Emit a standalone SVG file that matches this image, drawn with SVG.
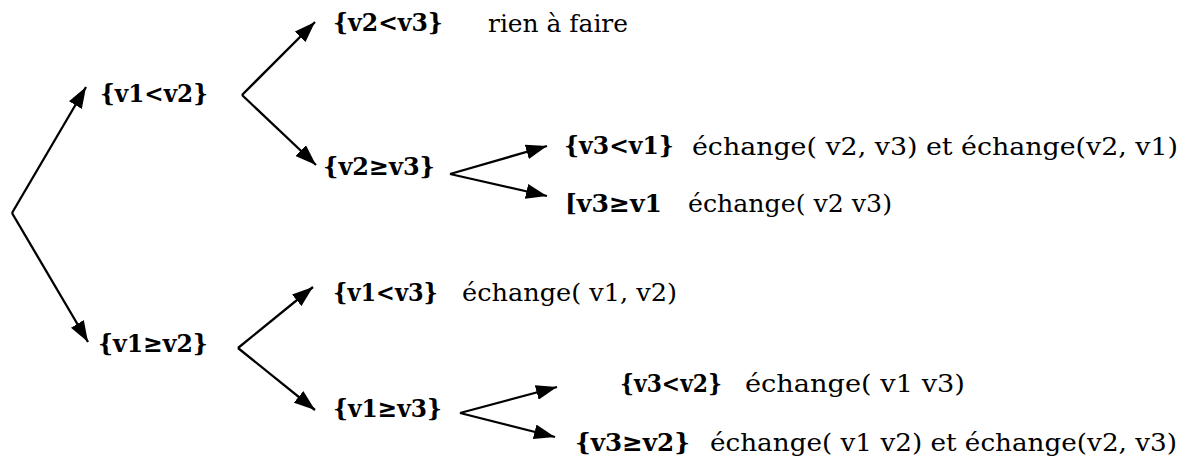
<svg xmlns="http://www.w3.org/2000/svg" width="1183" height="462" viewBox="0 0 1183 462">
<defs>
<marker id="ah" viewBox="0 0 21 15" markerWidth="21" markerHeight="15" refX="21" refY="7.5" markerUnits="userSpaceOnUse" orient="auto">
<path d="M0,0 L21,7.5 L0,15 z" fill="#000"/>
</marker>
</defs>
<rect width="1183" height="462" fill="#fff"/>
<g id="connectors" stroke="#000" stroke-width="2.3" fill="none" marker-end="url(#ah)">
<line x1="12" y1="213" x2="86" y2="87"/>
<line x1="12" y1="213" x2="88" y2="342"/>
<line x1="242" y1="95" x2="315" y2="22"/>
<line x1="242" y1="95" x2="316" y2="165"/>
<line x1="450" y1="174" x2="547" y2="146"/>
<line x1="450" y1="174" x2="547" y2="196"/>
<line x1="238" y1="348" x2="313" y2="287"/>
<line x1="238" y1="348" x2="315" y2="410"/>
<line x1="460" y1="413" x2="557" y2="387"/>
<line x1="460" y1="413" x2="555" y2="437"/>
</g>
<g font-family="DejaVu Serif" fill="#000">
<g font-weight="bold" font-size="25">
<g id="n-v1lt-v2"><text x="100" y="102" textLength="108" lengthAdjust="spacingAndGlyphs">{v1&lt;v2}</text></g>
<g id="n-v2lt-v3"><text x="333" y="31" textLength="110" lengthAdjust="spacingAndGlyphs">{v2&lt;v3}</text></g>
<g id="n-v2ge-v3"><text x="323" y="175" textLength="112" lengthAdjust="spacingAndGlyphs">{v2≥v3}</text></g>
<g id="n-v3lt-v1"><text x="564" y="154" textLength="110" lengthAdjust="spacingAndGlyphs">{v3&lt;v1}</text></g>
<g id="n-v3ge-v1"><text x="565" y="212" textLength="97" lengthAdjust="spacingAndGlyphs">[v3≥v1</text></g>
<g id="n-v1lt-v3"><text x="333" y="301" textLength="105" lengthAdjust="spacingAndGlyphs">{v1&lt;v3}</text></g>
<g id="n-v1ge-v2"><text x="98" y="352" textLength="110" lengthAdjust="spacingAndGlyphs">{v1≥v2}</text></g>
<g id="n-v1ge-v3"><text x="333" y="417" textLength="109" lengthAdjust="spacingAndGlyphs">{v1≥v3}</text></g>
<g id="n-v3lt-v2"><text x="620" y="392" textLength="102" lengthAdjust="spacingAndGlyphs">{v3&lt;v2}</text></g>
<g id="n-v3ge-v2"><text x="575" y="451" textLength="115" lengthAdjust="spacingAndGlyphs">{v3≥v2}</text></g>
</g>
<g font-size="25" id="actions">
<text x="488" y="32" textLength="140" lengthAdjust="spacingAndGlyphs">rien à faire</text>
<text x="692" y="155" textLength="486" lengthAdjust="spacingAndGlyphs">échange( v2, v3) et échange(v2, v1)</text>
<text x="688" y="212" textLength="204" lengthAdjust="spacingAndGlyphs">échange( v2 v3)</text>
<text x="462" y="301" textLength="215" lengthAdjust="spacingAndGlyphs">échange( v1, v2)</text>
<text x="745" y="392" textLength="220" lengthAdjust="spacingAndGlyphs">échange( v1 v3)</text>
<text x="710" y="451" textLength="467" lengthAdjust="spacingAndGlyphs">échange( v1 v2) et échange(v2, v3)</text>
</g>
</g>
</svg>
